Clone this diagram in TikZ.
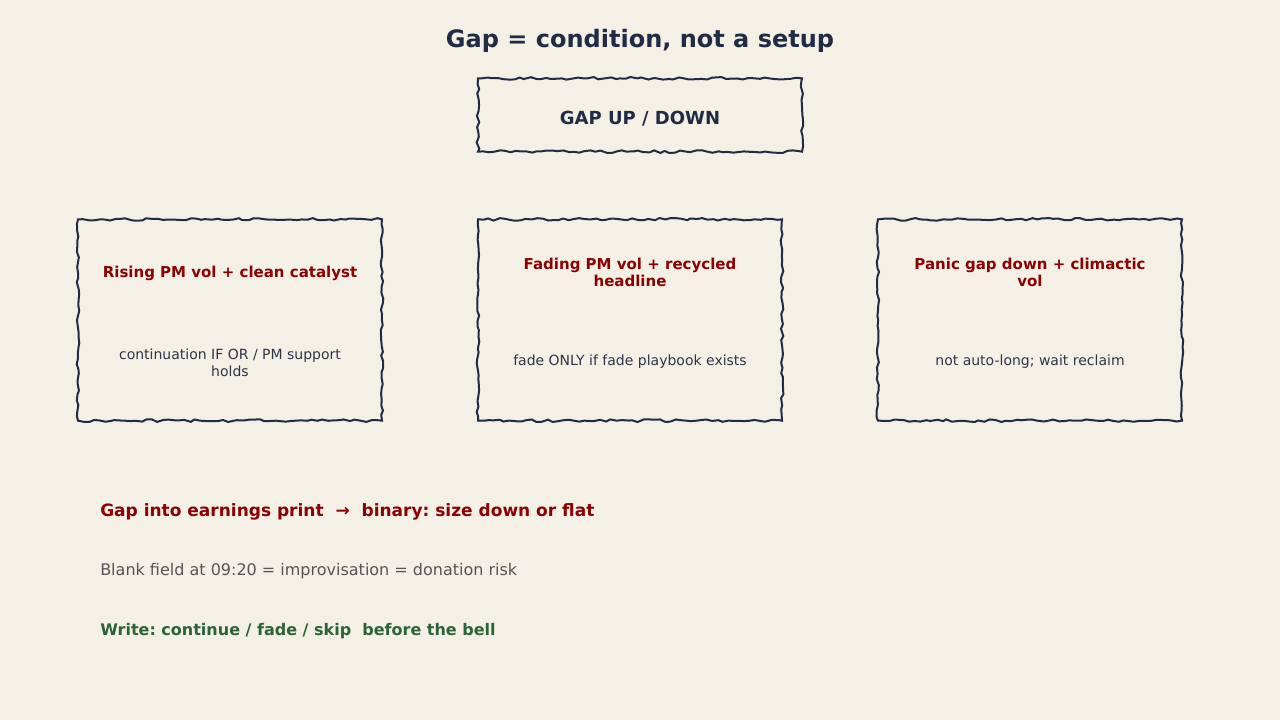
\documentclass[tikz,border=0pt]{standalone}
\usepackage{fontspec}
\setmainfont{DejaVu Sans}
\usetikzlibrary{decorations.pathmorphing}
\definecolor{bg}{HTML}{F4F0E6}
\definecolor{ink}{HTML}{222B45}
\definecolor{redt}{HTML}{8B0000}
\definecolor{greent}{HTML}{2A6438}
\definecolor{grayt}{HTML}{555555}
\definecolor{bodyt}{HTML}{2E3548}
\frenchspacing
\begin{document}
\hyphenpenalty=10000
\exhyphenpenalty=10000
\begin{tikzpicture}[x=0.75pt,y=-0.75pt,
  roughbox/.style={draw=ink, line width=1.5pt, decorate,
    decoration={random steps, segment length=4pt, amplitude=1.0pt},
    inner sep=0pt, fill=none},
  boxtitle/.style={text=redt, font=\bfseries\fontsize{11.25}{13}\selectfont, align=flush center, text width=192.5pt},
  boxbody/.style={text=bodyt, font=\fontsize{10.5}{13}\selectfont, align=flush center, text width=192.5pt},
  note/.style={anchor=west, inner sep=0pt, font=\fontsize{12}{14}\selectfont}]
\pgfmathsetseed{7}
\fill[bg] (0,0) rectangle (1280,720);
\useasboundingbox (0,0) rectangle (1280,720);
\node[text=ink, font=\bfseries\fontsize{18}{22}\selectfont] (title) at (640,41) {Gap = condition, not a setup};
\node[roughbox, minimum width=243pt, minimum height=55pt] (gap) at (640,115) {};
\node[text=ink, font=\bfseries\fontsize{13.5}{16}\selectfont] (gaplbl) at (640,119) {GAP UP / DOWN};

\node[roughbox, minimum width=228pt, minimum height=151pt] (b1) at (230,320) {};
\node[roughbox, minimum width=228pt, minimum height=151pt] (b2) at (630,320) {};
\node[roughbox, minimum width=228pt, minimum height=151pt] (b3) at (1030,320) {};

\node[boxtitle] (t1) at (230,273) {Rising PM vol + clean catalyst};
\node[boxtitle] (t2) at (630,272.5) {Fading PM vol + recycled headline};
\node[boxtitle] (t3) at (1030,272.5) {Panic gap down + climactic vol};

\node[boxbody] (d1) at (230,362.5) {continuation IF OR / PM support holds};
\node[boxbody] (d2) at (630,362) {fade ONLY if fade playbook exists};
\node[boxbody] (d3) at (1030,362) {not auto-long; wait reclaim};

\node[note, text=redt, font=\bfseries\fontsize{12.75}{15}\selectfont] (n1) at (100,512) {Gap into earnings print\ \ →\ \ binary: size down or flat};
\node[note, text=grayt] (n2) at (100,571) {Blank field at 09:20 = improvisation = donation risk};
\node[note, text=greent, font=\bfseries\fontsize{12}{14}\selectfont] (n3) at (100,631) {Write: continue / fade / skip\ \ before the bell};
\end{tikzpicture}
\end{document}
